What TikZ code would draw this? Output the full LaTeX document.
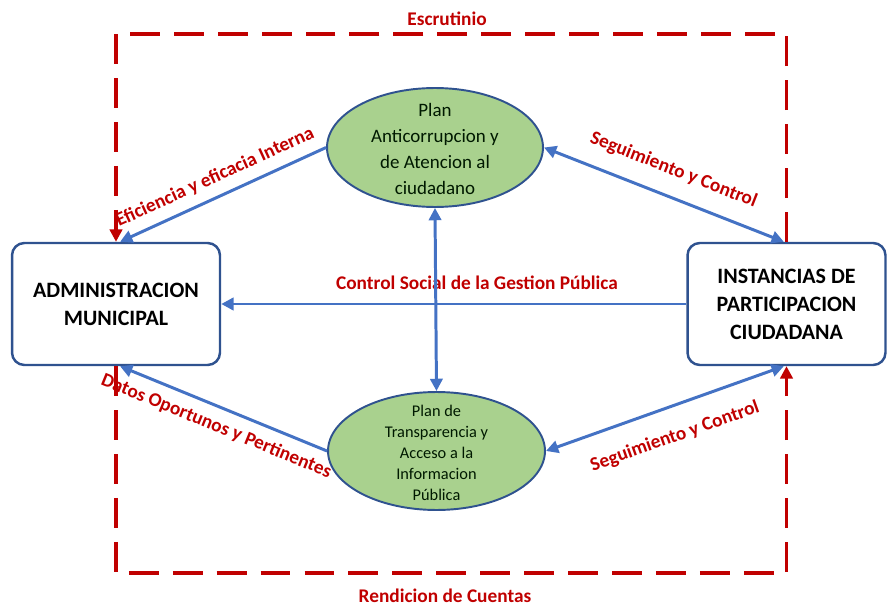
\documentclass[tikz,border=0pt]{standalone}
\usepackage{fontspec}
\setmainfont{Carlito}
\usetikzlibrary{arrows.meta, shapes.geometric}

\definecolor{flowblue}{HTML}{4472C4}
\definecolor{escrred}{HTML}{C00000}
\definecolor{planfill}{HTML}{A9D18E}
\definecolor{edgeblue}{HTML}{2F528F}

\tikzset{
  actor/.style={draw=edgeblue, line width=1.4pt, rounded corners=7pt, fill=white,
    minimum width=4.16cm, minimum height=2.44cm, align=center,
    font=\fontsize{12.5}{16}\selectfont\bfseries},
  plan/.style={ellipse, draw=edgeblue, line width=1.1pt, fill=planfill, inner sep=0pt},
  plantext/.style={align=center, text=black!90!green},
  flow/.style={draw=flowblue, line width=1.7pt},
  escrline/.style={draw=escrred, line width=2.2pt, dash pattern=on 17pt off 8pt},
  redtag/.style={text=escrred, font=\fontsize{11}{13}\selectfont\bfseries},
}

\begin{document}
\begin{tikzpicture}[x=0.02cm, y=-0.02cm, >={Triangle[length=7pt,width=7pt]}]
    \useasboundingbox (0,0) rectangle (887,605);

    % the two actors
    \node [actor](adm)at(116,304){ADMINISTRACION\\MUNICIPAL};
    \node [actor, minimum width=3.96cm](inst)at(786.5,304){INSTANCIAS DE\\PARTICIPACION\\CIUDADANA};

    % the two plans
    \node [plan, minimum width=4.32cm, minimum height=2.38cm](pa)at(435,147.5){};
    \node [plantext, font=\fontsize{10.8}{14.8}\selectfont](pa-t)at(435,149){Plan\\Anticorrupcion y\\de Atencion al\\ciudadano};
    \node [plan, minimum width=4.34cm, minimum height=2.36cm](pt)at(436.5,451){};
    \node [plantext, font=\fontsize{9.3}{12}\selectfont](pt-t)at(436.5,453){Plan de\\Transparencia y\\Acceso a la\\Informacion\\Pública};

    % dashed loop
    \coordinate (tl)at(116,34);
    \coordinate (br)at(786.5,573);
    \draw [escrline,->](inst.north)|-(tl)--(adm.north);
    \draw [escrline,->](adm.south)|-(br)--(inst.south);
    \node [redtag](escr)at(447,19){Escrutinio};
    \node [redtag](rend)at(445,596){Rendicion de Cuentas};

    % flows
    \draw [flow,<-]([xshift=2.3pt]adm.north)--(pa.west)
        node[redtag,midway,sloped,above=2pt]{Eficiencia y eficacia Interna};
    \draw [flow,<->](pa.east)--([xshift=-1.5pt]inst.north)
        node[redtag,midway,sloped,above=6pt]{Seguimiento y Control};
    \draw [flow,->](inst.west)--(adm.east)
        node[redtag,pos=0.45,above=4pt]{Control Social de la Gestion Pública};
    \draw [flow,<->](pa.south)--(pt.north);
    \draw [flow,<-]([xshift=2.3pt]adm.south)--(pt.west)
        node[redtag,midway,sloped,below=2pt]{Datos Oportunos y Pertinentes};
    \draw [flow,<->](pt.east)--([xshift=-1.5pt]inst.south)
        node[redtag,midway,sloped,below=8pt]{Seguimiento y Control};
\end{tikzpicture}
\end{document}
